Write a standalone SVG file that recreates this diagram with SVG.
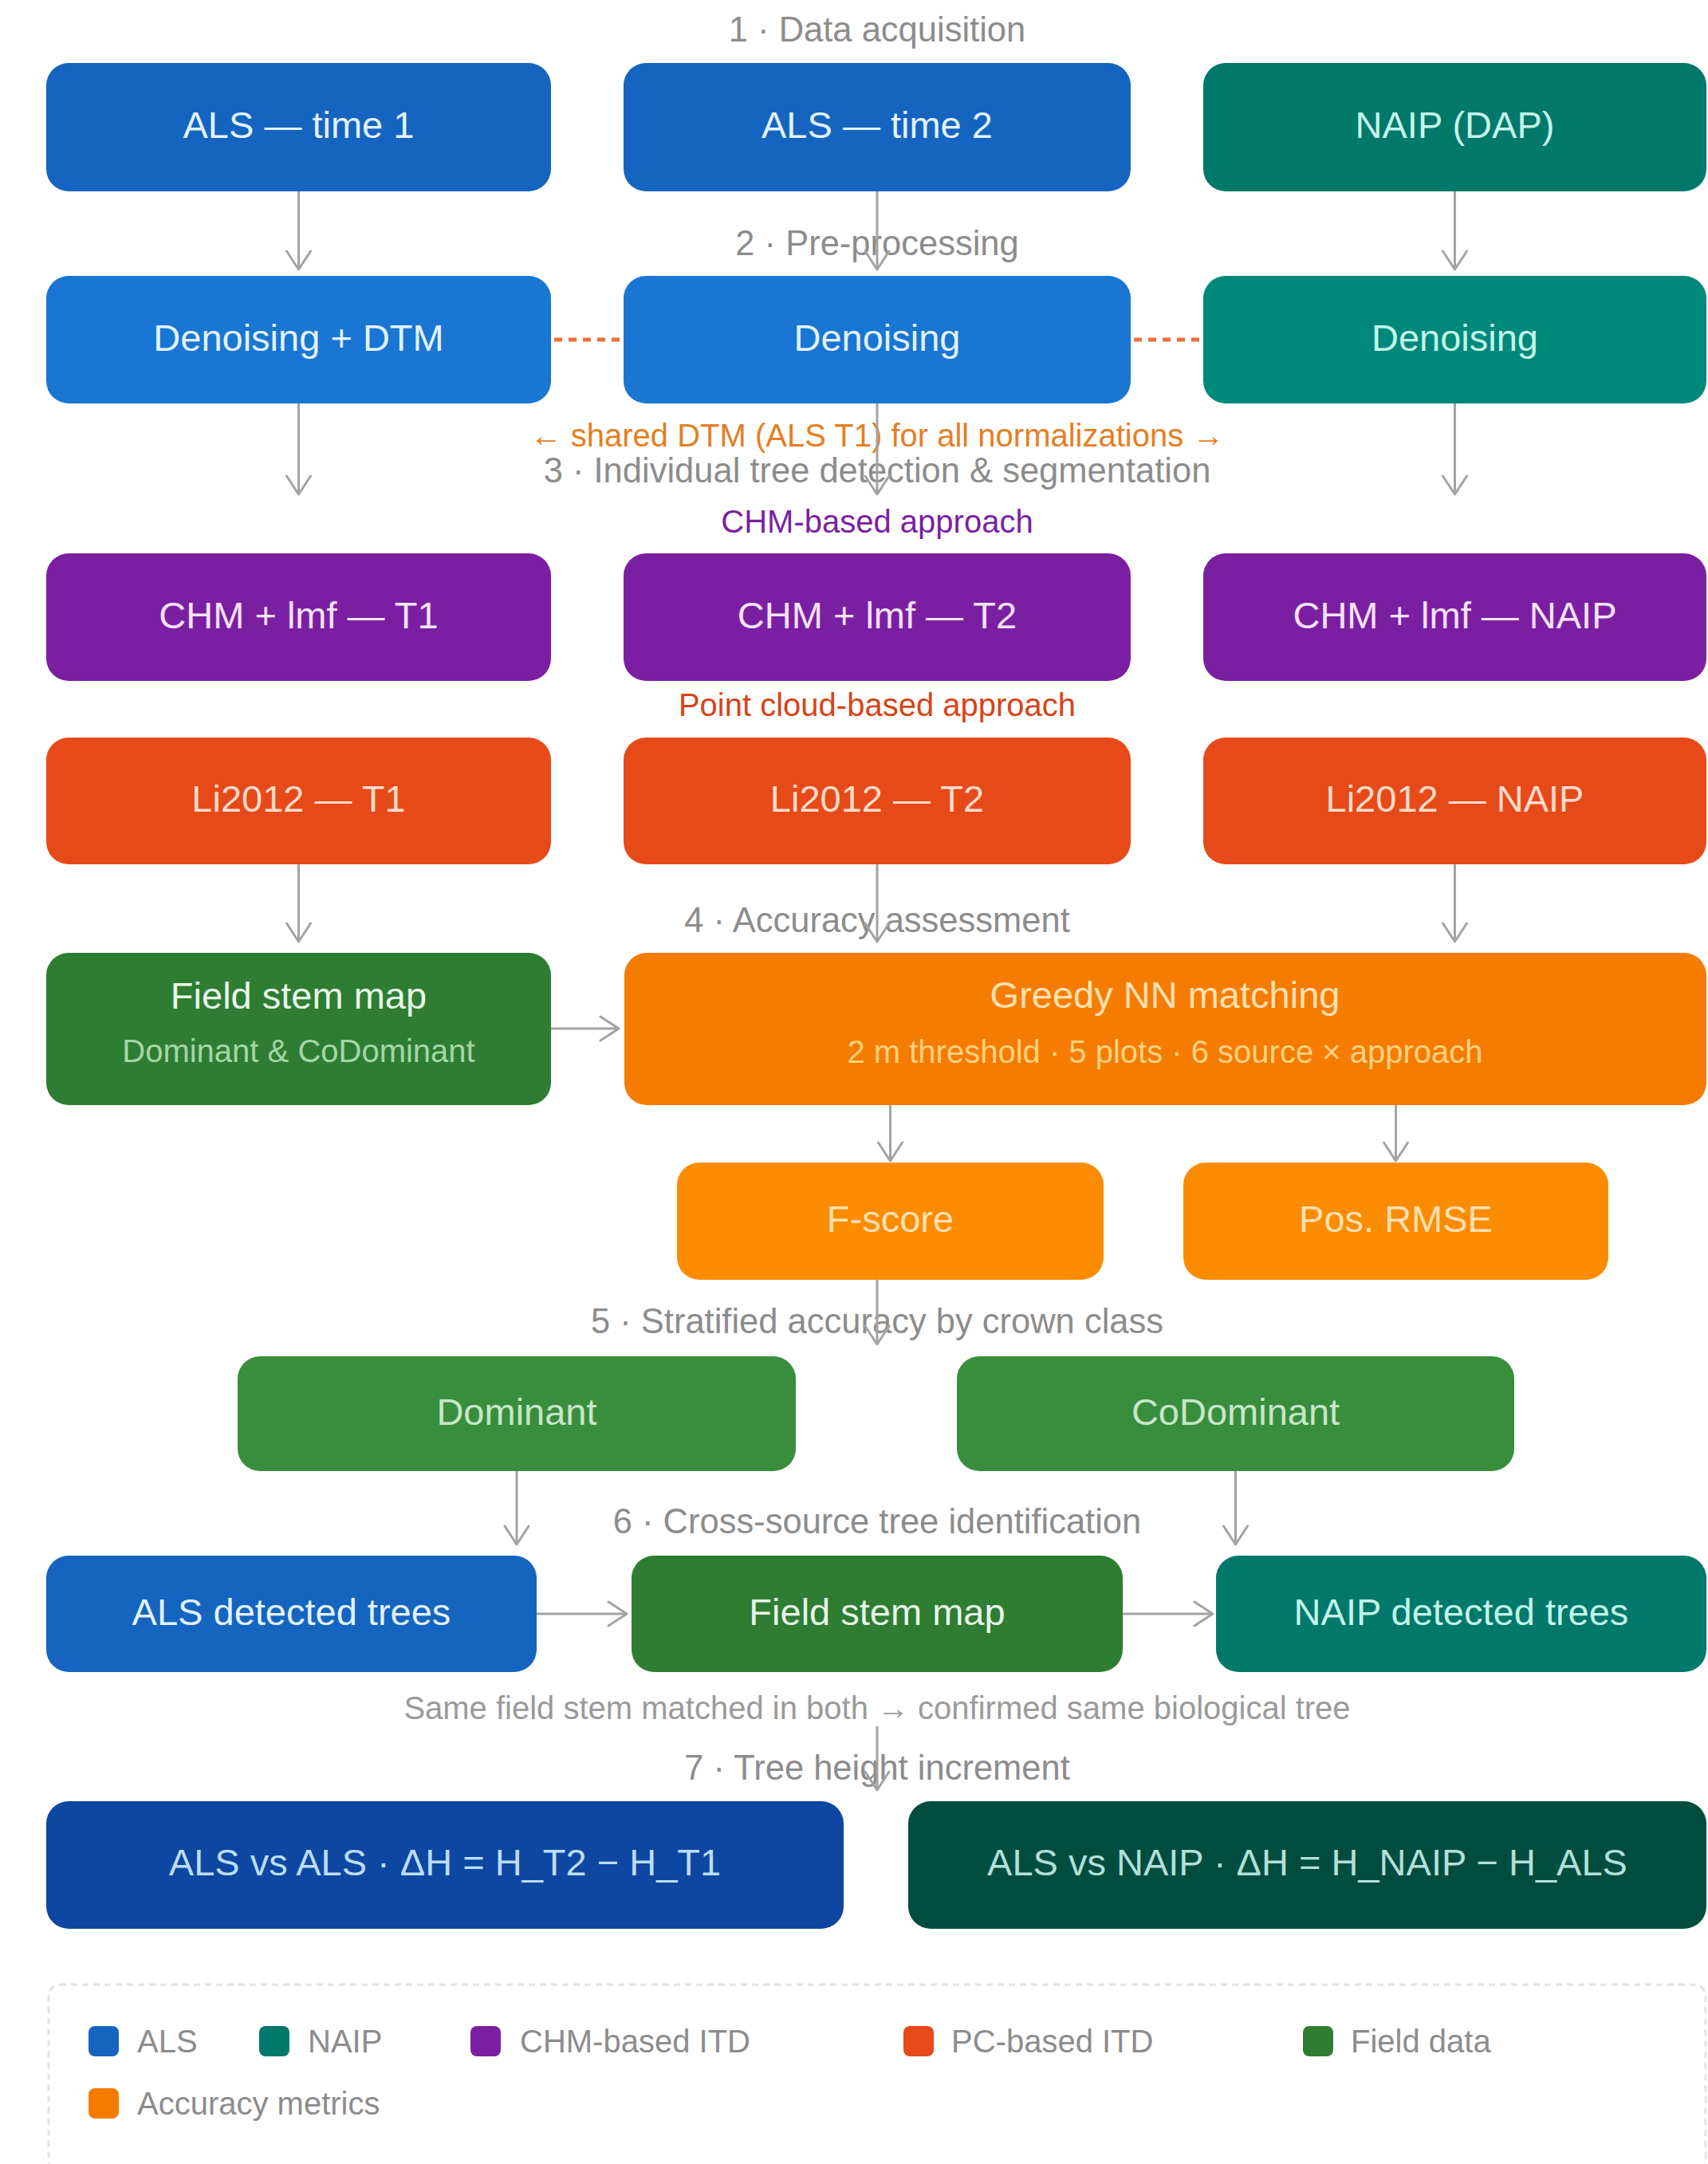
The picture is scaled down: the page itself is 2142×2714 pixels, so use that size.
<svg xmlns="http://www.w3.org/2000/svg" width="2142" height="2714" viewBox="0 0 2142 2714">
<defs>
<marker id="arr" viewBox="0 0 34 34" refX="32" refY="17" markerWidth="34" markerHeight="34" markerUnits="userSpaceOnUse" orient="auto">
<path d="M 9 2 L 32 17 L 9 32" fill="none" stroke="#a3a3a3" stroke-width="3" stroke-linecap="round" stroke-linejoin="round"/>
</marker>
</defs>
<style>
text{font-family:"Liberation Sans",Arial,Helvetica,sans-serif;text-anchor:middle}
.t{font-size:47px}
.s{font-size:40px}
.sec{font-size:43.5px;fill:#8c8c8c}
.lg{font-size:40px;fill:#8c8c8c;text-anchor:start}
.c{fill:none;stroke:#a3a3a3;stroke-width:3;marker-end:url(#arr)}
.d{fill:none;stroke:#e8703a;stroke-width:5;stroke-dasharray:10 8}
</style>
<rect width="2142" height="2714" fill="#ffffff"/>

<g id="labels">
<text class="sec" x="1100" y="52">1 · Data acquisition</text>
<text class="sec" x="1100" y="320">2 · Pre-processing</text>
<text class="s" x="1100" y="560" fill="#e67e22">← shared DTM (ALS T1) for all normalizations →</text>
<text class="sec" x="1100" y="605">3 · Individual tree detection &amp; segmentation</text>
<text class="s" x="1100" y="668" fill="#7b1fa2">CHM-based approach</text>
<text class="s" x="1100" y="898" fill="#d84315">Point cloud-based approach</text>
<text class="sec" x="1100" y="1169">4 · Accuracy assessment</text>
<text class="sec" x="1100" y="1672">5 · Stratified accuracy by crown class</text>
<text class="sec" x="1100" y="1923">6 · Cross-source tree identification</text>
<text class="s" x="1100" y="2156" fill="#9a9a9a">Same field stem matched in both → confirmed same biological tree</text>
<text class="sec" x="1100" y="2232">7 · Tree height increment</text>
</g>

<g id="n-als1"><rect x="58" y="79" width="633" height="161" rx="28" fill="#1565c0"/><text class="t" x="374.5" y="173" fill="#e3f2fd">ALS — time 1</text></g>
<g id="n-als2"><rect x="782" y="79" width="636" height="161" rx="28" fill="#1565c0"/><text class="t" x="1100" y="173" fill="#e3f2fd">ALS — time 2</text></g>
<g id="n-naip"><rect x="1509" y="79" width="631" height="161" rx="28" fill="#00796b"/><text class="t" x="1824.5" y="173" fill="#c4f5ea">NAIP (DAP)</text></g>

<g id="n-den1"><rect x="58" y="346" width="633" height="160" rx="28" fill="#1976d2"/><text class="t" x="374.5" y="440" fill="#e3f2fd">Denoising + DTM</text></g>
<g id="n-den2"><rect x="782" y="346" width="636" height="160" rx="28" fill="#1976d2"/><text class="t" x="1100" y="440" fill="#e3f2fd">Denoising</text></g>
<g id="n-den3"><rect x="1509" y="346" width="631" height="160" rx="28" fill="#00897b"/><text class="t" x="1824.5" y="440" fill="#c4f5ea">Denoising</text></g>

<g id="n-chm1"><rect x="58" y="694" width="633" height="160" rx="28" fill="#7b1fa2"/><text class="t" x="374.5" y="788" fill="#f6e3fb">CHM + lmf — T1</text></g>
<g id="n-chm2"><rect x="782" y="694" width="636" height="160" rx="28" fill="#7b1fa2"/><text class="t" x="1100" y="788" fill="#f6e3fb">CHM + lmf — T2</text></g>
<g id="n-chm3"><rect x="1509" y="694" width="631" height="160" rx="28" fill="#7b1fa2"/><text class="t" x="1824.5" y="788" fill="#f6e3fb">CHM + lmf — NAIP</text></g>

<g id="n-li1"><rect x="58" y="925" width="633" height="159" rx="28" fill="#e64a19"/><text class="t" x="374.5" y="1018" fill="#ffdccb">Li2012 — T1</text></g>
<g id="n-li2"><rect x="782" y="925" width="636" height="159" rx="28" fill="#e64a19"/><text class="t" x="1100" y="1018" fill="#ffdccb">Li2012 — T2</text></g>
<g id="n-li3"><rect x="1509" y="925" width="631" height="159" rx="28" fill="#e64a19"/><text class="t" x="1824.5" y="1018" fill="#ffdccb">Li2012 — NAIP</text></g>

<g id="n-field"><rect x="58" y="1195" width="633" height="191" rx="28" fill="#2e7d32"/><text class="t" x="374.5" y="1265" fill="#e8f5e9">Field stem map</text><text class="s" x="374.5" y="1332" fill="#a5d6a7">Dominant &amp; CoDominant</text></g>
<g id="n-greedy"><rect x="783" y="1195" width="1357" height="191" rx="28" fill="#f57c00"/><text class="t" x="1461" y="1264" fill="#ffe0b2">Greedy NN matching</text><text class="s" x="1461" y="1333" fill="#ffd180">2 m threshold · 5 plots · 6 source × approach</text></g>

<g id="n-fscore"><rect x="849" y="1458" width="535" height="147" rx="28" fill="#fb8c00"/><text class="t" x="1116.5" y="1545" fill="#ffe0b2">F-score</text></g>
<g id="n-rmse"><rect x="1484" y="1458" width="533" height="147" rx="28" fill="#fb8c00"/><text class="t" x="1750.5" y="1545" fill="#ffe0b2">Pos. RMSE</text></g>

<g id="n-dom"><rect x="298" y="1701" width="700" height="144" rx="28" fill="#388e3c"/><text class="t" x="648" y="1787" fill="#c8e6c9">Dominant</text></g>
<g id="n-codom"><rect x="1200" y="1701" width="699" height="144" rx="28" fill="#388e3c"/><text class="t" x="1549.5" y="1787" fill="#c8e6c9">CoDominant</text></g>

<g id="n-alsdet"><rect x="58" y="1951" width="615" height="146" rx="28" fill="#1565c0"/><text class="t" x="365.5" y="2038" fill="#e3f2fd">ALS detected trees</text></g>
<g id="n-field2"><rect x="792" y="1951" width="616" height="146" rx="28" fill="#2e7d32"/><text class="t" x="1100" y="2038" fill="#e8f5e9">Field stem map</text></g>
<g id="n-naipdet"><rect x="1525" y="1951" width="615" height="146" rx="28" fill="#00796b"/><text class="t" x="1832.5" y="2038" fill="#c4f5ea">NAIP detected trees</text></g>

<g id="n-alsals"><rect x="58" y="2259" width="1000" height="160" rx="28" fill="#0d47a1"/><text class="t" x="558" y="2352" fill="#bbdefb">ALS vs ALS · ΔH = H_T2 − H_T1</text></g>
<g id="n-alsnaip"><rect x="1139" y="2259" width="1001" height="160" rx="28" fill="#004d40"/><text class="t" x="1639.5" y="2352" fill="#b2dfdb">ALS vs NAIP · ΔH = H_NAIP − H_ALS</text></g>

<g id="connectors">
<line class="c" x1="374.5" y1="240" x2="374.5" y2="338"/>
<line class="c" x1="1100" y1="240" x2="1100" y2="338"/>
<line class="c" x1="1824.5" y1="240" x2="1824.5" y2="338"/>
<line class="d" x1="695" y1="426" x2="778" y2="426"/>
<line class="d" x1="1422" y1="426" x2="1505" y2="426"/>
<line class="c" x1="374.5" y1="506" x2="374.5" y2="620"/>
<line class="c" x1="1100" y1="506" x2="1100" y2="620"/>
<line class="c" x1="1824.5" y1="506" x2="1824.5" y2="620"/>
<line class="c" x1="374.5" y1="1084" x2="374.5" y2="1181"/>
<line class="c" x1="1100" y1="1084" x2="1100" y2="1181"/>
<line class="c" x1="1824.5" y1="1084" x2="1824.5" y2="1181"/>
<line class="c" x1="691" y1="1290" x2="776" y2="1290"/>
<line class="c" x1="1116.5" y1="1386" x2="1116.5" y2="1456"/>
<line class="c" x1="1750.5" y1="1386" x2="1750.5" y2="1456"/>
<line class="c" x1="1100" y1="1605" x2="1100" y2="1686"/>
<line class="c" x1="648" y1="1845" x2="648" y2="1937"/>
<line class="c" x1="1549.5" y1="1845" x2="1549.5" y2="1937"/>
<line class="c" x1="673" y1="2024" x2="786" y2="2024"/>
<line class="c" x1="1408" y1="2024" x2="1521" y2="2024"/>
<line class="c" x1="1100" y1="2165" x2="1100" y2="2245"/>
</g>

<g id="legend">
<rect x="61" y="2489" width="2078" height="280" rx="14" fill="#ffffff" stroke="#e2e2e2" stroke-width="3" stroke-dasharray="8 6"/>
<rect x="111" y="2541" width="38" height="38" rx="8" fill="#1565c0"/><text class="lg" x="172" y="2574">ALS</text>
<rect x="325" y="2541" width="38" height="38" rx="8" fill="#00796b"/><text class="lg" x="386" y="2574">NAIP</text>
<rect x="590" y="2541" width="38" height="38" rx="8" fill="#7b1fa2"/><text class="lg" x="652" y="2574">CHM-based ITD</text>
<rect x="1133" y="2541" width="38" height="38" rx="8" fill="#e64a19"/><text class="lg" x="1193" y="2574">PC-based ITD</text>
<rect x="1634" y="2541" width="38" height="38" rx="8" fill="#2e7d32"/><text class="lg" x="1694" y="2574">Field data</text>
<rect x="111" y="2619" width="38" height="38" rx="8" fill="#f57c00"/><text class="lg" x="172" y="2652">Accuracy metrics</text>
</g>
</svg>
